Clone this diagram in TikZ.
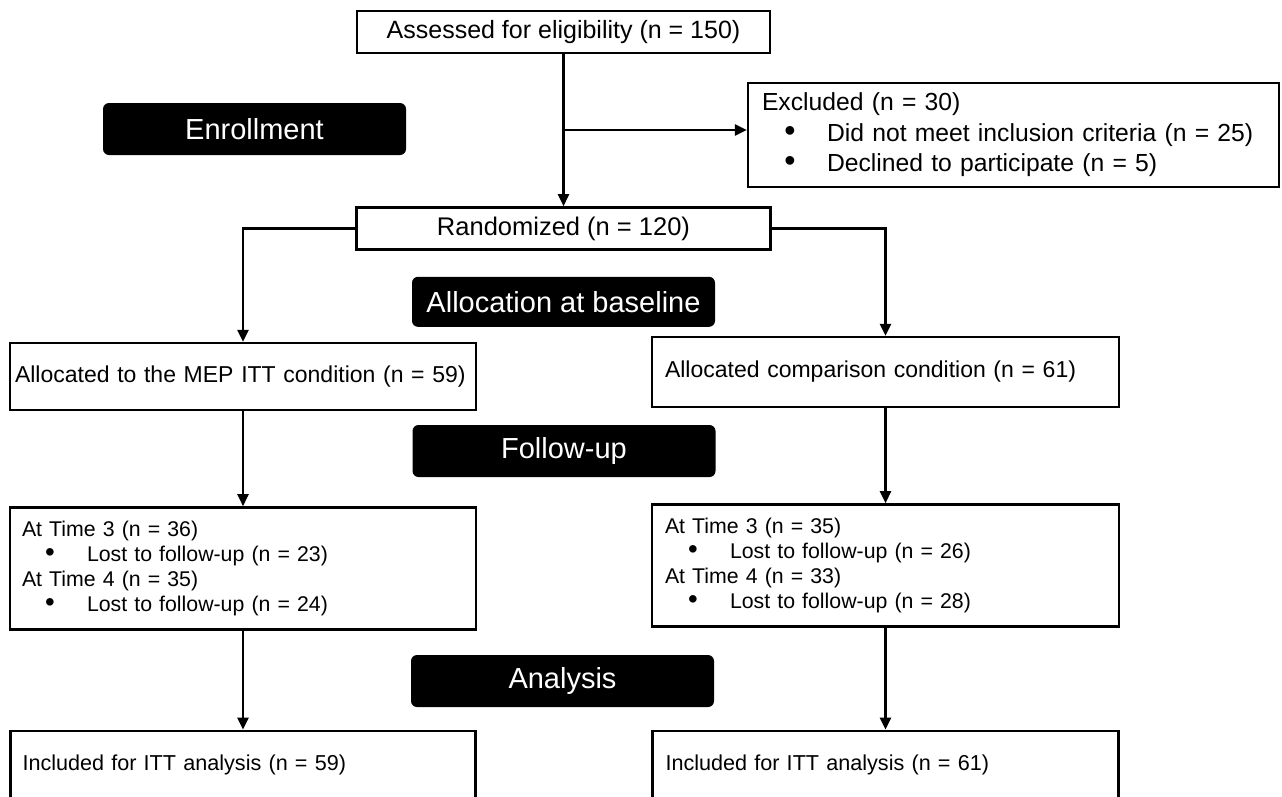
\documentclass[tikz,border=0pt]{standalone}
\usepackage{fontspec}
\setmainfont{Liberation Sans}
\usepackage{graphicx}
\usetikzlibrary{arrows.meta,positioning}

\newcommand{\bul}{\makebox[56pt]{\scalebox{1.3}{\textbullet}}\hspace{9pt}}

\begin{document}
\begin{tikzpicture}[
        x=1pt, y=-1pt,
        every path/.style={line width=2.4pt},
        box/.style={draw, line width=2.4pt, inner sep=0pt, align=center},
        listbox/.style={draw, line width=2.4pt, inner ysep=0pt, inner xsep=13pt, align=left},
        stage/.style={fill=black, text=white, rounded corners=6pt, inner sep=0pt, minimum width=303pt, minimum height=52pt, font=\fontsize{29}{34}\selectfont},
        arr/.style={-{Triangle[length=12pt,width=11pt]}}
    ]
    \useasboundingbox (0,0) rectangle (1282,796);

    % Nodes
    \node (assess)[box, minimum width=413pt, minimum height=42pt, font=\fontsize{25}{30}\selectfont] at (563.5,32) {Assessed for eligibility (n = 150)};

    \node (excl)[listbox, inner xsep=14pt, text width=503pt, minimum height=104pt, font=\fontsize{24.7}{30.5}\selectfont] at (1013.5,135) {Excluded (n = 30)\\
        \bul Did not meet inclusion criteria (n = 25)\\
        \bul Declined to participate (n = 5)};

    \node (enroll)[stage] at (254.5,129) {Enrollment};

    \node (rand)[box, below=152pt of assess, minimum width=414pt, minimum height=42pt, font=\fontsize{25.5}{30}\selectfont] {Randomized (n = 120)};

    \node (alloc)[stage, below=25pt of rand, minimum height=50pt] {Allocation at baseline};

    \node (mep)[listbox, inner xsep=5pt, text width=456pt, minimum height=67pt, font=\fontsize{23}{28}\selectfont] at (243,376.5) {Allocated to the MEP ITT condition (n = 59)};

    \node (comp)[listbox, text width=441pt, minimum height=70pt, font=\fontsize{23}{28}\selectfont] at (885.5,372) {Allocated comparison condition (n = 61)};

    \node (follow)[stage] at (564,451) {Follow-up};

    \node (timeL)[listbox, below=95pt of mep, inner xsep=12pt, text width=442pt, minimum height=122pt, font=\fontsize{21.3}{25.2}\selectfont] {At Time 3 (n = 36)\\
        \bul Lost to follow-up (n = 23)\\
        At Time 4 (n = 35)\\
        \bul Lost to follow-up (n = 24)};

    \node (timeR)[listbox, below=95pt of comp, text width=441pt, minimum height=122pt, font=\fontsize{21.3}{25.2}\selectfont] {At Time 3 (n = 35)\\
        \bul Lost to follow-up (n = 26)\\
        At Time 4 (n = 33)\\
        \bul Lost to follow-up (n = 28)};

    \node (analysis)[stage] at (562.5,681) {Analysis};

    \node (ittL)[listbox, below=99pt of timeL, inner xsep=12pt, text width=441pt, minimum height=69pt, font=\fontsize{21.6}{26}\selectfont] {Included for ITT analysis (n = 59)};

    \node (ittR)[listbox, below=102pt of timeR, text width=440pt, minimum height=69pt, font=\fontsize{21.6}{26}\selectfont] {Included for ITT analysis (n = 61)};

    % Edges
    \coordinate (split) at (563.5,130);
    \draw[arr] (assess) -- (rand);
    \draw[arr] (split) -- (split -| excl.west);
    \draw[arr] (rand.west) -| (mep.north);
    \draw[arr] (rand.east) -| (comp.north);
    \draw[arr] (mep) -- (timeL);
    \draw[arr] (comp) -- (timeR);
    \draw[arr] (timeL) -- (ittL);
    \draw[arr] (timeR) -- (ittR);

\end{tikzpicture}
\end{document}
